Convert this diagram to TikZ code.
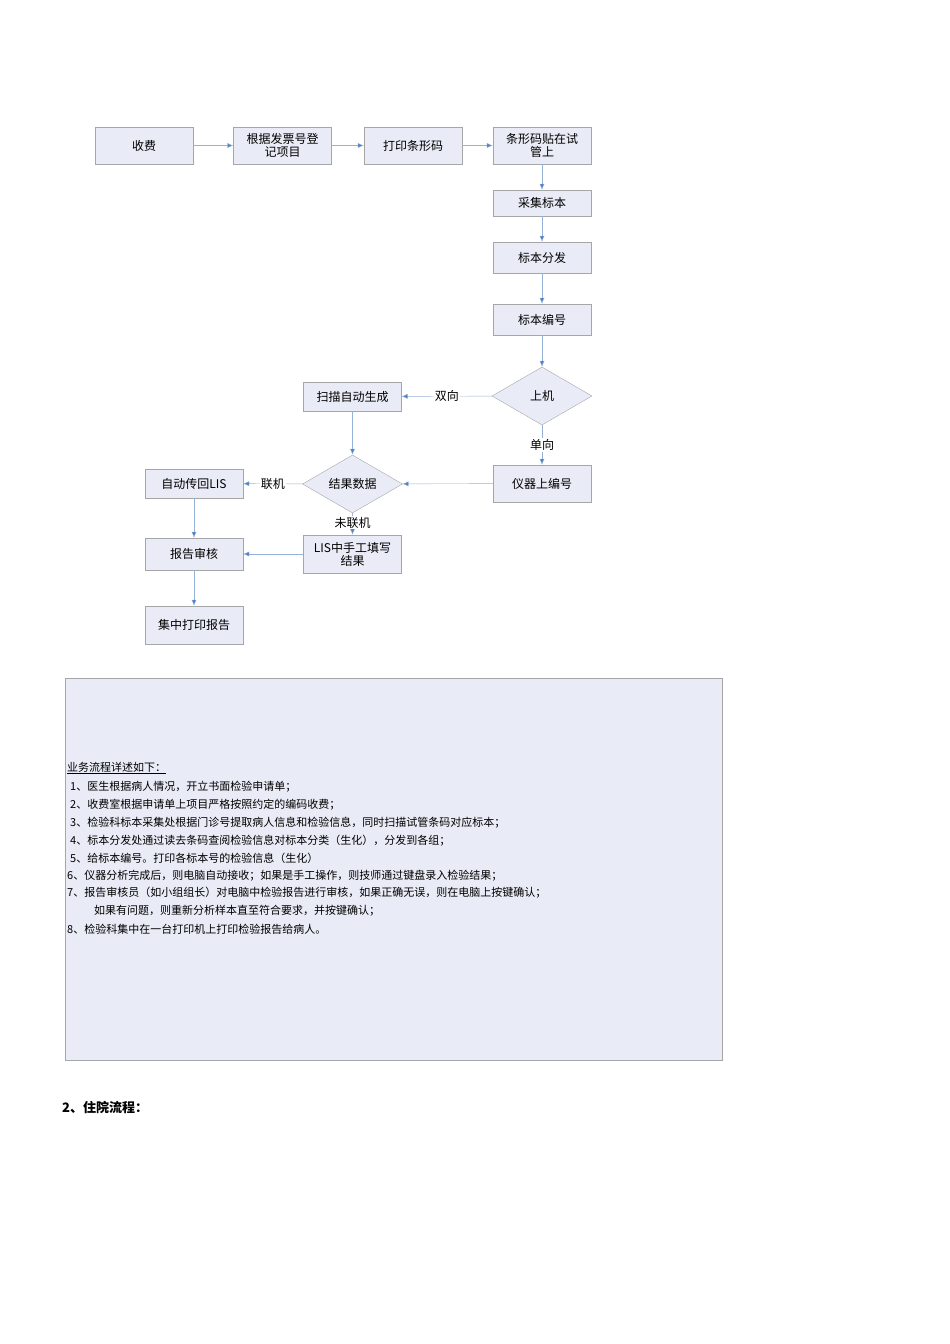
\documentclass[tikz,border=0pt]{standalone}
\usepackage{fontspec}
\setmainfont{Noto Sans CJK SC}
\usetikzlibrary{shapes.geometric,arrows.meta}
\definecolor{bfill}{HTML}{E9ECF6}
\definecolor{bdraw}{HTML}{A6A6A6}
\definecolor{arr}{HTML}{4F81BD}
\tikzset{
 box/.style={draw=bdraw,fill=bfill,minimum width=98pt,inner sep=1pt,align=center,font=\fontsize{12}{13}\selectfont},
 dia/.style={diamond,draw=bdraw,fill=bfill,minimum width=100pt,minimum height=58pt,aspect=1.7,inner sep=0pt,font=\fontsize{12}{13}\selectfont},
 con/.style={draw=arr!60,-{Latex[length=6pt,width=5pt,fill=arr]}},
 lab/.style={fill=white,inner sep=1pt,font=\fontsize{12}{13}\selectfont},
 tl/.style={anchor=west,inner sep=0pt,font=\fontsize{11}{12}\selectfont}
}
\begin{document}
\begin{tikzpicture}[x=1pt,y=-1pt]
\useasboundingbox (0,0) rectangle (950,1344);
\node[box,minimum height=37pt] (a) at (144,145.5) {收费};
\node[box,minimum height=37pt] (b) at (282.5,145.5) {根据发票号登\\记项目};
\node[box,minimum height=37pt] (c) at (413,145.5) {打印条形码};
\node[box,minimum height=37pt] (d) at (542,145.5) {条形码贴在试\\管上};
\node[box,minimum height=26pt] (e) at (542,203) {采集标本};
\node[box,minimum height=31pt] (f) at (542,257.5) {标本分发};
\node[box,minimum height=31pt] (g) at (542,319.5) {标本编号};
\node[dia] (h) at (542,396) {上机};
\node[box,minimum height=29pt] (i) at (352.5,396.5) {扫描自动生成};
\node[box,minimum height=37pt] (j) at (542,483.5) {仪器上编号};
\node[dia] (k) at (352.5,484) {结果数据};
\node[box,minimum height=29pt] (l) at (194,483.5) {自动传回LIS};
\node[box,minimum height=38pt] (m) at (352.5,554) {LIS中手工填写\\结果};
\node[box,minimum height=32pt] (n) at (194,554) {报告审核};
\node[box,minimum height=38pt] (o) at (194,625) {集中打印报告};
\draw[con] (a) -- (b);
\draw[con] (b) -- (c);
\draw[con] (c) -- (d);
\draw[con] (d) -- (e);
\draw[con] (e) -- (f);
\draw[con] (f) -- (g);
\draw[con] (g) -- (h);
\draw[con] (h) -- node[lab,pos=0.5] (t1) {双向} (i);
\draw[con] (h) -- node[lab,pos=0.5] (t2) {单向} (j);
\draw[con] (i) -- (k);
\draw[con] (j) -- (k);
\draw[con] (k) -- node[lab,pos=0.5] (t3) {联机} (l);
\draw[con] (k) -- node[lab,pos=0.45] (t4) {未联机} (m);
\draw[con] (l) -- (n);
\draw[con] (m) -- (n);
\draw[con] (n) -- (o);
\node[draw=bdraw,fill=bfill,minimum width=657pt,minimum height=382pt,inner sep=0pt] (p) at (393.5,869) {};
\node[tl] (q0) at (67,768) {\underline{业务流程详述如下：}};
\node[tl] (q1) at (70,787) {1、医生根据病人情况，开立书面检验申请单；};
\node[tl] (q2) at (70,805) {2、收费室根据申请单上项目严格按照约定的编码收费；};
\node[tl] (q3) at (70,823) {3、检验科标本采集处根据门诊号提取病人信息和检验信息，同时扫描试管条码对应标本；};
\node[tl] (q4) at (70,841) {4、标本分发处通过读去条码查阅检验信息对标本分类（生化），分发到各组；};
\node[tl] (q5) at (70,858) {5、给标本编号。打印各标本号的检验信息（生化）};
\node[tl] (q6) at (67,876) {6、仪器分析完成后，则电脑自动接收；如果是手工操作，则技师通过键盘录入检验结果；};
\node[tl] (q7) at (67,893) {7、报告审核员（如小组组长）对电脑中检验报告进行审核，如果正确无误，则在电脑上按键确认；};
\node[tl] (q7b) at (94,911) {如果有问题，则重新分析样本直至符合要求，并按键确认；};
\node[tl] (q8) at (67,929) {8、检验科集中在一台打印机上打印检验报告给病人。};
\node[anchor=west,inner sep=0pt,font=\fontsize{13}{14}\selectfont\bfseries] (r) at (62,1107) {2、住院流程：};
\end{tikzpicture}
\end{document}
